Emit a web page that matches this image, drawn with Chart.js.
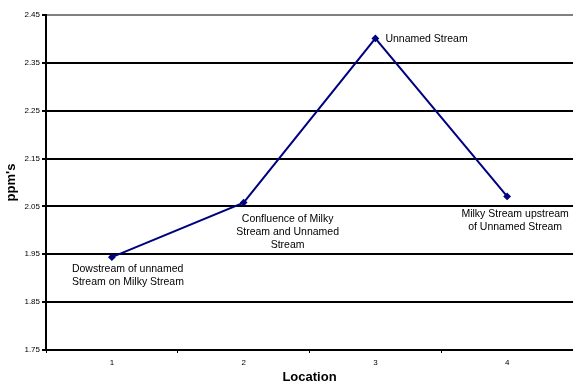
<!DOCTYPE html>
<html>
<head>
<meta charset="utf-8">
<script src="https://cdn.jsdelivr.net/npm/chart.js@4"></script>
<style>
  html, body { margin: 0; padding: 0; background: #fff; }
  #wrap { width: 573px; height: 385px; }
</style>
</head>
<body>
<div id="wrap"><canvas id="ppmChart"></canvas></div>
<script>
const locations = ['1', '2', '3', '4'];
const ppmValues = [1.944, 2.058, 2.401, 2.071];
const pointNotes = [
    ['Dowstream of unnamed', 'Stream on Milky Stream'],
    ['Confluence of Milky', 'Stream and Unnamed', 'Stream'],
    ['Unnamed Stream'],
    ['Milky Stream upstream', 'of Unnamed Stream']
];
const yTicks = [1.75, 1.85, 1.95, 2.05, 2.15, 2.25, 2.35, 2.45];

const FONT = '"Liberation Sans", Arial, sans-serif';

// where each note sits relative to its point: dx, dy, alignment
const noteSpots = [
    { dx: -40, dy: 7, align: 'left' },
    { dx: 44, dy: 11, align: 'center' },
    { dx: 10, dy: -5, align: 'left' },
    { dx: 8, dy: 12, align: 'center' }
];

const pointNotesPlugin = {
    id: 'pointNotes',
    afterDatasetsDraw(chart) {
        const ctx = chart.ctx;
        const meta = chart.getDatasetMeta(0);
        ctx.save();
        ctx.font = '10.5px ' + FONT;
        ctx.fillStyle = '#000';
        ctx.textBaseline = 'top';
        meta.data.forEach((pt, i) => {
            const spot = noteSpots[i];
            ctx.textAlign = spot.align;
            pointNotes[i].forEach((line, j) => {
                ctx.fillText(line, pt.x + spot.dx, pt.y + spot.dy + j * 13);
            });
        });
        ctx.restore();
    }
};

const ctx = document.getElementById('ppmChart').getContext('2d');

new Chart(ctx, {
    type: 'line',
    data: {
        labels: locations,
        datasets: [{
            data: ppmValues,
            borderColor: '#000080',
            backgroundColor: '#000080',
            borderWidth: 2,
            pointStyle: 'rectRot',
            pointRadius: 2.5,
            tension: 0,
            fill: false
        }]
    },
    options: {
        responsive: true,
        maintainAspectRatio: false,
        animation: false,
        layout: { autoPadding: false, padding: { top: 15, right: 0, left: 0, bottom: 0 } },
        plugins: {
            legend: { display: false },
            tooltip: { enabled: false }
        },
        scales: {
            x: {
                offset: true,
                grid: {
                    offset: true,
                    drawOnChartArea: false,
                    color: '#000',
                    tickLength: 3,
                    lineWidth: 1
                },
                border: { color: '#000', width: 2 },
                ticks: {
                    color: '#000',
                    font: { family: FONT, size: 8 },
                    padding: 5
                },
                title: {
                    display: true,
                    text: 'Location',
                    color: '#000',
                    font: { family: FONT, size: 13, weight: 'bold' },
                    padding: { top: 1, bottom: 0 }
                },
                afterFit: scale => {
                    scale.height = 35;
                    scale.paddingLeft = 0;
                    scale.paddingRight = 0;
                }
            },
            y: {
                min: 1.75,
                max: 2.45,
                afterBuildTicks: scale => {
                    scale.ticks = yTicks.map(v => ({ value: v }));
                },
                grid: {
                    color: c => (c.tick && c.tick.value === 2.45) ? '#808080' : '#000',
                    lineWidth: 2,
                    tickLength: 4,
                    tickColor: '#000'
                },
                border: { color: '#000', width: 2 },
                ticks: {
                    color: '#000',
                    font: { family: FONT, size: 8 },
                    padding: 2,
                    callback: v => Number(v).toFixed(2)
                },
                title: {
                    display: true,
                    text: "ppm's",
                    color: '#000',
                    font: { family: FONT, size: 13, weight: 'bold' },
                    padding: { top: 4, bottom: 0 }
                },
                afterFit: scale => {
                    scale.width = 46;
                    scale.paddingTop = 0;
                    scale.paddingBottom = 0;
                }
            }
        }
    },
    plugins: [pointNotesPlugin]
});
</script>
</body>
</html>
